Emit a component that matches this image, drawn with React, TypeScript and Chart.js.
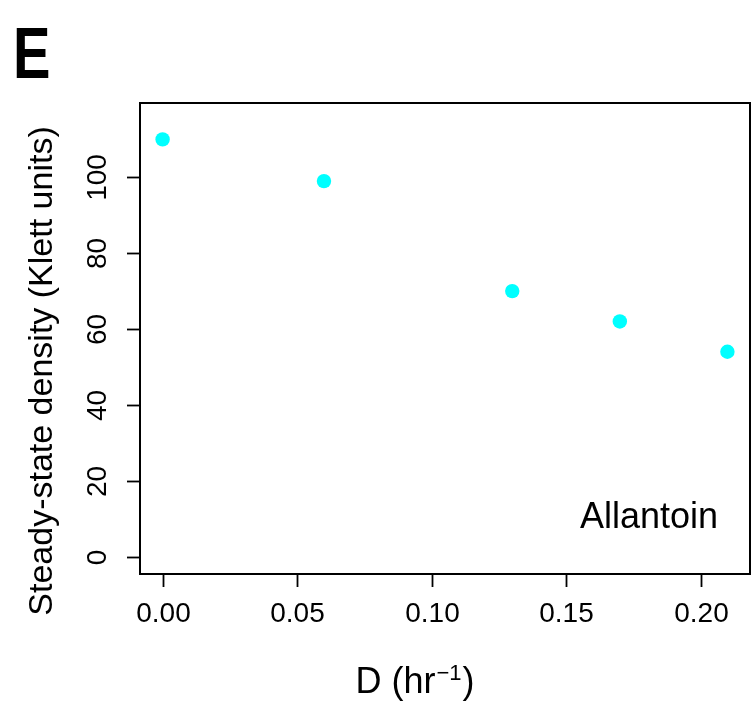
import React, { useEffect, useRef } from "react";
import { Chart, registerables } from "chart.js";

Chart.register(...registerables);

const dilutionRates = [0, 0.06, 0.13, 0.17, 0.21];
const densities = [110, 99, 70, 62, 54];
const xTickValues = [0, 0.05, 0.1, 0.15, 0.2];
const xTickLabels = ["0.00", "0.05", "0.10", "0.15", "0.20"];
const yTickValues = [0, 20, 40, 60, 80, 100];
const yTickLabels = ["0", "20", "40", "60", "80", "100"];
const panelLabel = "E";
const annotation = "Allantoin";
const yTitle = "Steady-state density (Klett units)";

const FONT = '"Liberation Sans", Arial, Helvetica, sans-serif';

const axesPlugin = {
  id: "rAxes",
  afterDraw(chart: any) {
    const ctx = chart.ctx as CanvasRenderingContext2D;
    const { left, right, top, bottom } = chart.chartArea;
    const xs = chart.scales.x;
    const ys = chart.scales.y;
    ctx.save();
    ctx.strokeStyle = "#000";
    ctx.fillStyle = "#000";
    // box
    ctx.lineWidth = 2;
    ctx.strokeRect(left, top, right - left, bottom - top);
    // x ticks
    ctx.lineWidth = 1.8;
    ctx.font = `28px ${FONT}`;
    ctx.textAlign = "center";
    ctx.textBaseline = "alphabetic";
    xTickValues.forEach((v, i) => {
      const px = Math.round(xs.getPixelForValue(v)) + 0.5;
      ctx.beginPath();
      ctx.moveTo(px, bottom);
      ctx.lineTo(px, bottom + 13);
      ctx.stroke();
      ctx.fillText(xTickLabels[i], px, 622);
    });
    // y ticks
    yTickValues.forEach((v, i) => {
      const py = Math.round(ys.getPixelForValue(v)) + 0.5;
      ctx.beginPath();
      ctx.moveTo(left, py);
      ctx.lineTo(left - 13, py);
      ctx.stroke();
      ctx.save();
      ctx.translate(106, py);
      ctx.rotate(-Math.PI / 2);
      ctx.textAlign = "center";
      ctx.fillText(yTickLabels[i], 0, 0);
      ctx.restore();
    });
    // y title
    ctx.save();
    ctx.font = `34px ${FONT}`;
    ctx.translate(52, 371);
    ctx.rotate(-Math.PI / 2);
    ctx.textAlign = "center";
    ctx.fillText(yTitle, 0, 0);
    ctx.restore();
    // x title with superscript
    ctx.save();
    ctx.textAlign = "left";
    const main1 = "D (hr";
    const sup = "\u22121";
    const main2 = ")";
    ctx.font = `36px ${FONT}`;
    const w1 = ctx.measureText(main1).width;
    const w3 = ctx.measureText(main2).width;
    ctx.font = `22px ${FONT}`;
    const w2 = ctx.measureText(sup).width;
    const total = w1 + w2 + 2 + w3;
    const x0 = 415 - total / 2;
    ctx.font = `36px ${FONT}`;
    ctx.fillText(main1, x0, 693);
    ctx.font = `22px ${FONT}`;
    ctx.fillText(sup, x0 + w1 + 1, 680);
    ctx.font = `36px ${FONT}`;
    ctx.fillText(main2, x0 + w1 + w2 + 2, 693);
    ctx.restore();
    // annotation
    ctx.save();
    ctx.font = `36px ${FONT}`;
    ctx.textAlign = "right";
    ctx.fillText(annotation, 718, 528);
    ctx.restore();
    // panel label
    ctx.save();
    ctx.font = `bold 72px ${FONT}`;
    ctx.translate(13, 78);
    ctx.scale(0.78, 1);
    ctx.textAlign = "left";
    ctx.fillText(panelLabel, 0, 0);
    ctx.restore();
    ctx.restore();
  },
};

export default function App() {
  const canvasRef = useRef<HTMLCanvasElement | null>(null);
  useEffect(() => {
    const canvas = canvasRef.current;
    if (!canvas) return;
    const chart = new Chart(canvas, {
      type: "scatter",
      data: {
        datasets: [
          {
            label: annotation,
            data: dilutionRates.map((x, i) => ({ x, y: densities[i] })),
            backgroundColor: "#00FFFF",
            borderColor: "#00FFFF",
            borderWidth: 0,
            pointRadius: 7.2,
            pointHoverRadius: 7.2,
          },
        ],
      },
      options: {
        responsive: false,
        animation: false,
        devicePixelRatio: 1,
        layout: { autoPadding: false, padding: { left: 140, top: 103, right: 1, bottom: 130 } },
        plugins: { legend: { display: false }, tooltip: { enabled: false } },
        scales: {
          x: { type: "linear", display: false, min: -0.0084, max: 0.2184 },
          y: { type: "linear", display: false, min: -4.6, max: 119.6 },
        },
      },
      plugins: [axesPlugin],
    });
    return () => chart.destroy();
  }, []);
  return (
    <div style={{ position: "absolute", left: 0, top: 0, width: 751, height: 704, background: "#fff" }}>
      <canvas ref={canvasRef} width={751} height={704} style={{ display: "block" }} />
    </div>
  );
}
